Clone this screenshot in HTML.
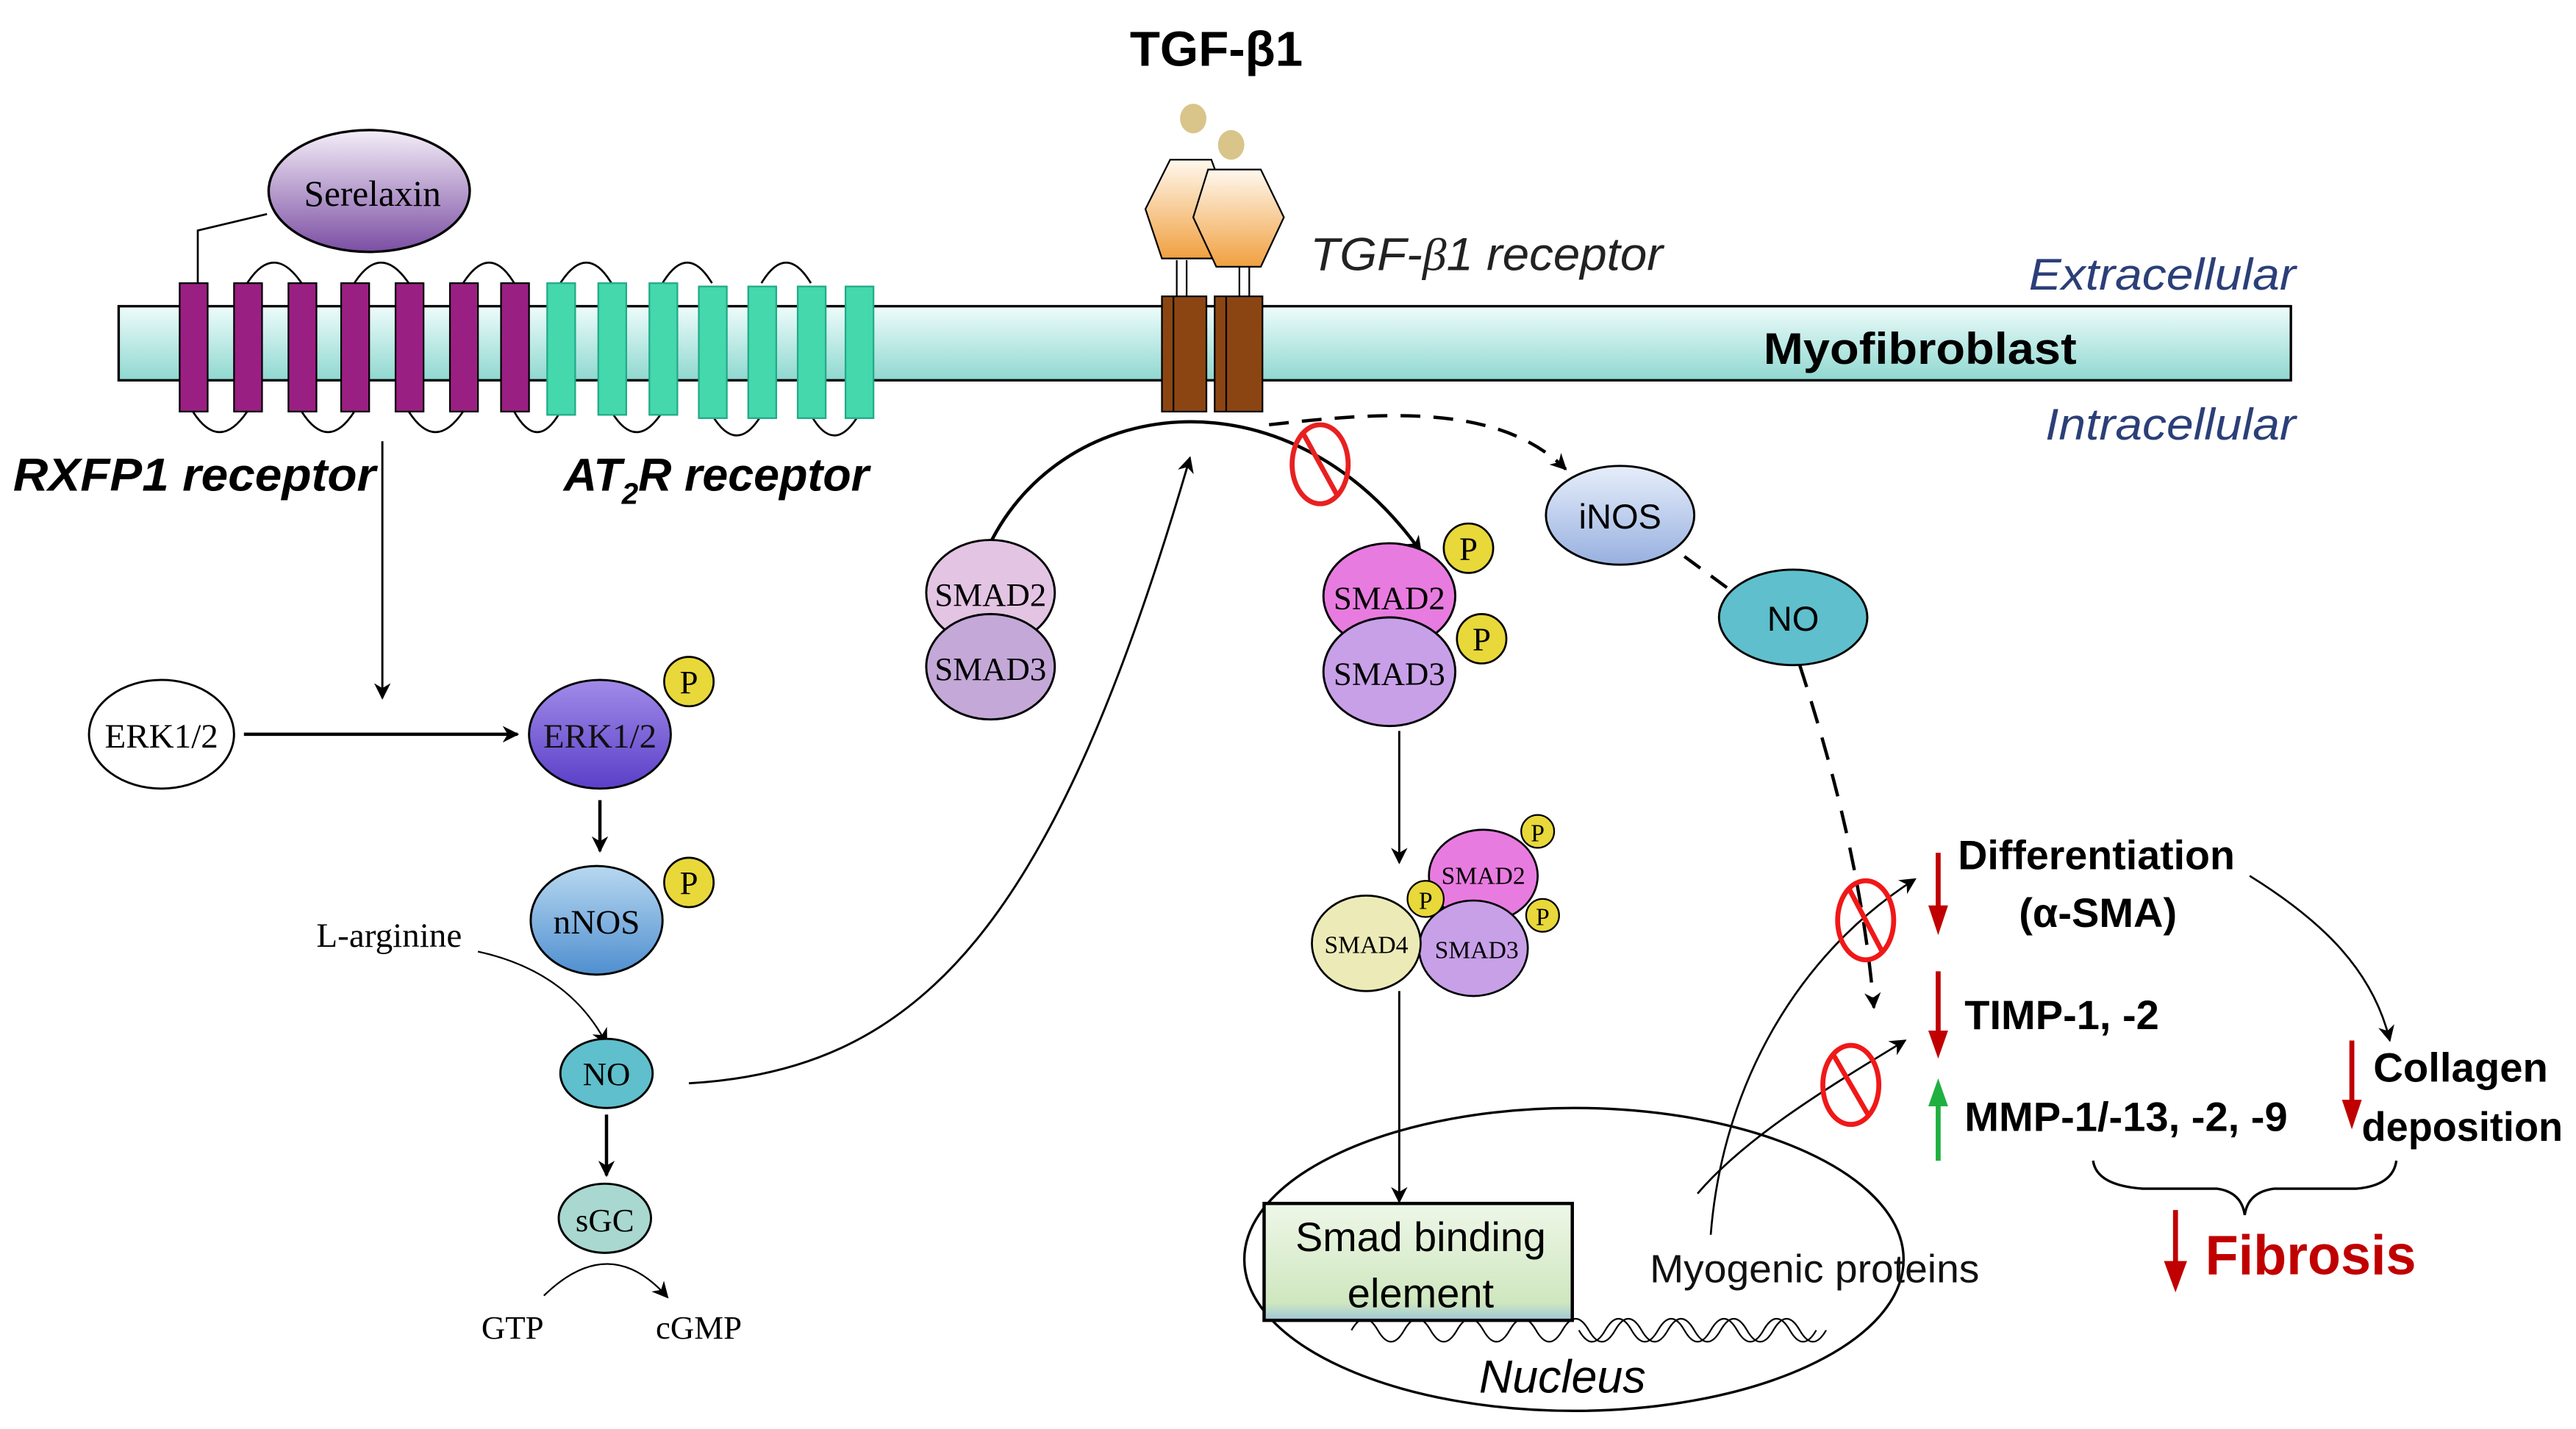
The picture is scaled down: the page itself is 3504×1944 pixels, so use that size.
<!DOCTYPE html>
<html><head><meta charset="utf-8"><style>html,body{margin:0;padding:0;background:#fff}svg{display:block}</style></head><body>
<svg width="3504" height="1944" viewBox="0 0 1563 868" preserveAspectRatio="none" xmlns="http://www.w3.org/2000/svg" font-family="Liberation Sans, sans-serif">
<defs>
<linearGradient id="mem" x1="0" y1="0" x2="0" y2="1"><stop offset="0" stop-color="#eefcfb"/><stop offset="1" stop-color="#8fd8d0"/></linearGradient>
<linearGradient id="ser" x1="0" y1="0" x2="0" y2="1"><stop offset="0" stop-color="#f4eef8"/><stop offset="1" stop-color="#7b4ea3"/></linearGradient>
<linearGradient id="hex" x1="0" y1="0" x2="0" y2="1"><stop offset="0" stop-color="#fff8ee"/><stop offset="1" stop-color="#f0a040"/></linearGradient>
<linearGradient id="erk" x1="0" y1="0" x2="0" y2="1"><stop offset="0" stop-color="#a18be8"/><stop offset="1" stop-color="#5b3fc8"/></linearGradient>
<linearGradient id="nnos" x1="0" y1="0" x2="0" y2="1"><stop offset="0" stop-color="#b8d8f0"/><stop offset="1" stop-color="#4f8fd0"/></linearGradient>
<linearGradient id="inos" x1="0" y1="0" x2="0" y2="1"><stop offset="0" stop-color="#e6eefa"/><stop offset="1" stop-color="#98b0e0"/></linearGradient>
<linearGradient id="sbe" x1="0" y1="0" x2="0" y2="1"><stop offset="0" stop-color="#eef7e8"/><stop offset="0.85" stop-color="#cfe7bf"/><stop offset="1" stop-color="#9cc6d8"/></linearGradient>
<marker id="a" markerWidth="10" markerHeight="10" refX="9" refY="5" orient="auto" markerUnits="userSpaceOnUse"><path d="M0,0 L10,5 L0,10 L3,5 z" fill="#000"/></marker>
</defs>
<rect x="72" y="186" width="1318" height="45" fill="url(#mem)" stroke="#000" stroke-width="1.5"/>
<text x="1231" y="176" font-size="27" font-style="italic" fill="#2b3f78" textLength="162" lengthAdjust="spacingAndGlyphs">Extracellular</text>
<text x="1241" y="267" font-size="27" font-style="italic" fill="#2b3f78" textLength="152" lengthAdjust="spacingAndGlyphs">Intracellular</text>
<text x="1070" y="221" font-size="27" font-weight="bold" textLength="190" lengthAdjust="spacingAndGlyphs">Myofibroblast</text>
<g fill="none" stroke="#000" stroke-width="1.2">
<path d="M150,172 q16,-25 33,0 M215,172 q16,-25 33,0 M281,172 q16,-25 31,0 M340,172 q16,-25 31,0 M402,172 q15,-25 30,0 M462,172 q15,-25 30,0"/>
<path d="M117,250 q16,25 33,0 M183,250 q16,25 32,0 M248,250 q16,25 33,0 M312,250 q14,25 28,0 M371,250 q15,25 31,0 M432,252 q15,25 30,0 M492,252 q14,25 29,0"/>
<path d="M120,172 L120,140 L162,130"/>
</g>
<g fill="#9a1f82" stroke="#000" stroke-width="1">
<rect x="109" y="172" width="17" height="78"/><rect x="142" y="172" width="17" height="78"/><rect x="175" y="172" width="17" height="78"/><rect x="207" y="172" width="17" height="78"/><rect x="240" y="172" width="17" height="78"/><rect x="273" y="172" width="17" height="78"/><rect x="304" y="172" width="17" height="78"/>
</g>
<g fill="#44d8ac" stroke="#2a8" stroke-width="1">
<rect x="332" y="172" width="17" height="80"/><rect x="363" y="172" width="17" height="80"/><rect x="394" y="172" width="17" height="80"/><rect x="424" y="174" width="17" height="80"/><rect x="454" y="174" width="17" height="80"/><rect x="484" y="174" width="17" height="80"/><rect x="513" y="174" width="17" height="80"/>
</g>
<ellipse cx="224" cy="116" rx="61" ry="37" fill="url(#ser)" stroke="#000" stroke-width="1.5"/>
<text x="226" y="125" font-size="22" font-family="Liberation Serif, serif" text-anchor="middle">Serelaxin</text>
<text x="8" y="298" font-size="28" font-weight="bold" font-style="italic" textLength="220" lengthAdjust="spacingAndGlyphs">RXFP1 receptor</text>
<text x="342" y="298" font-size="28" font-weight="bold" font-style="italic">AT<tspan font-size="18" dy="8">2</tspan><tspan dy="-8">R receptor</tspan></text>
<text x="738" y="40" font-size="30" font-weight="bold" text-anchor="middle">TGF-β1</text>
<ellipse cx="724" cy="72" rx="8" ry="9" fill="#d9c48a"/><ellipse cx="747" cy="88" rx="8" ry="9" fill="#d9c48a"/>
<g stroke="#000" stroke-width="1">
<line x1="714" y1="158" x2="714" y2="180"/><line x1="720" y1="158" x2="720" y2="180"/>
<line x1="752" y1="162" x2="752" y2="182"/><line x1="758" y1="162" x2="758" y2="182"/>
<polygon points="710,97 735,97 746,127 735,157 705,157 695,127" fill="url(#hex)"/>
<polygon points="733,103 765,103 779,132 765,162 738,162 724,132" fill="url(#hex)"/>
<rect x="705" y="180" width="27" height="70" fill="#8b4513"/><rect x="737" y="180" width="29" height="70" fill="#8b4513"/>
<line x1="712" y1="180" x2="712" y2="250"/><line x1="744" y1="180" x2="744" y2="250"/>
</g>
<text x="795" y="164" font-size="28" font-style="italic" fill="#222" textLength="214" lengthAdjust="spacingAndGlyphs">TGF-<tspan font-family="Liberation Serif, serif">β</tspan>1 receptor</text>
<line x1="232" y1="268" x2="232" y2="424" stroke="#000" stroke-width="1.3" marker-end="url(#a)"/>
<line x1="148" y1="446" x2="314" y2="446" stroke="#000" stroke-width="2" marker-end="url(#a)"/>
<ellipse cx="98" cy="446" rx="44" ry="33" fill="#fff" stroke="#000" stroke-width="1.3"/>
<text x="98" y="454" font-size="21" font-family="Liberation Serif, serif" text-anchor="middle">ERK1/2</text>
<ellipse cx="364" cy="446" rx="43" ry="33" fill="url(#erk)" stroke="#000" stroke-width="1.3"/>
<text x="364" y="454" font-size="21" font-family="Liberation Serif, serif" text-anchor="middle" fill="#111">ERK1/2</text>
<line x1="364" y1="486" x2="364" y2="517" stroke="#000" stroke-width="2" marker-end="url(#a)"/>
<ellipse cx="362" cy="559" rx="40" ry="33" fill="url(#nnos)" stroke="#000" stroke-width="1.3"/>
<text x="362" y="567" font-size="21" font-family="Liberation Serif, serif" text-anchor="middle">nNOS</text>
<text x="192" y="575" font-size="21" font-family="Liberation Serif, serif">L-arginine</text>
<path d="M290,578 Q345,590 368,634" fill="none" stroke="#000" stroke-width="1" marker-end="url(#a)"/>
<ellipse cx="368" cy="652" rx="28" ry="21" fill="#5fbfcc" stroke="#000" stroke-width="1.3"/>
<text x="368" y="659" font-size="20" font-family="Liberation Serif, serif" text-anchor="middle">NO</text>
<line x1="368" y1="677" x2="368" y2="714" stroke="#000" stroke-width="2" marker-end="url(#a)"/>
<ellipse cx="367" cy="740" rx="28" ry="21" fill="#a8d8d0" stroke="#000" stroke-width="1.3"/>
<text x="367" y="748" font-size="20" font-family="Liberation Serif, serif" text-anchor="middle">sGC</text>
<path d="M330,787 Q370,748 405,788" fill="none" stroke="#000" stroke-width="1" marker-end="url(#a)"/>
<text x="311" y="813" font-size="20" font-family="Liberation Serif, serif" text-anchor="middle">GTP</text>
<text x="424" y="813" font-size="20" font-family="Liberation Serif, serif" text-anchor="middle">cGMP</text>
<path d="M418,658 C560,650 640,560 722,278" fill="none" stroke="#000" stroke-width="1.3" marker-end="url(#a)"/>
<path d="M598,336 C640,240 780,220 862,335" fill="none" stroke="#000" stroke-width="2" marker-end="url(#a)"/>
<path d="M770,258 C840,250 910,245 950,285" fill="none" stroke="#000" stroke-width="2" stroke-dasharray="12,8" marker-end="url(#a)"/>
<ellipse cx="801" cy="282" rx="17" ry="24" fill="none" stroke="#e82020" stroke-width="3"/>
<line x1="790" y1="262" x2="812" y2="302" stroke="#e82020" stroke-width="3"/>
<ellipse cx="601" cy="360" rx="39" ry="32" fill="#e3c4e3" stroke="#000" stroke-width="1.3"/>
<ellipse cx="601" cy="405" rx="39" ry="32" fill="#c4a8d8" stroke="#000" stroke-width="1.3"/>
<text x="601" y="368" font-size="20" font-family="Liberation Serif, serif" text-anchor="middle">SMAD2</text>
<text x="601" y="413" font-size="20" font-family="Liberation Serif, serif" text-anchor="middle">SMAD3</text>
<ellipse cx="843" cy="362" rx="40" ry="32" fill="#e87be0" stroke="#000" stroke-width="1.3"/>
<ellipse cx="843" cy="408" rx="40" ry="33" fill="#c8a0e8" stroke="#000" stroke-width="1.3"/>
<text x="843" y="370" font-size="20" font-family="Liberation Serif, serif" text-anchor="middle">SMAD2</text>
<text x="843" y="416" font-size="20" font-family="Liberation Serif, serif" text-anchor="middle">SMAD3</text>
<g fill="#e8d83a" stroke="#000" stroke-width="1.2">
<circle cx="418" cy="414" r="15"/><circle cx="418" cy="536" r="15"/><circle cx="891" cy="333" r="15"/><circle cx="899" cy="388" r="15"/>
</g>
<g font-size="20" font-family="Liberation Serif, serif" text-anchor="middle">
<text x="418" y="421">P</text><text x="418" y="543">P</text><text x="891" y="340">P</text><text x="899" y="395">P</text>
</g>
<line x1="849" y1="444" x2="849" y2="524" stroke="#000" stroke-width="1.3" marker-end="url(#a)"/>
<ellipse cx="900" cy="532" rx="33" ry="28" fill="#e87be0" stroke="#000" stroke-width="1.2"/>
<ellipse cx="894" cy="576" rx="33" ry="29" fill="#c8a0e8" stroke="#000" stroke-width="1.2"/>
<ellipse cx="829" cy="573" rx="33" ry="29" fill="#ecebb8" stroke="#000" stroke-width="1.2"/>
<g fill="#e8d83a" stroke="#000"><circle cx="933" cy="505" r="10"/><circle cx="936" cy="556" r="10"/><circle cx="865" cy="546" r="11"/></g>
<g font-family="Liberation Serif, serif" text-anchor="middle" font-size="15">
<text x="900" y="537">SMAD2</text><text x="896" y="582">SMAD3</text><text x="829" y="579">SMAD4</text>
<text x="933" y="511">P</text><text x="936" y="562">P</text><text x="865" y="552">P</text>
</g>
<line x1="849" y1="602" x2="849" y2="730" stroke="#000" stroke-width="1.3" marker-end="url(#a)"/>
<ellipse cx="955" cy="765" rx="200" ry="92" fill="none" stroke="#000" stroke-width="1.5"/>
<path d="M820,808 q8,-14 16,0 q8,14 16,0 q8,-14 16,0 q8,14 16,0 q8,-14 16,0 q8,14 16,0 q8,-14 16,0 q8,14 16,0 q8,-14 16,0 q8,14 16,0 q8,-14 16,0 q8,14 16,0 q8,-14 16,0 q8,14 16,0 q8,-14 16,0 q8,14 16,0 q8,-14 16,0 q8,14 16,0 M958,808 q8,14 16,0 q8,-14 16,0 q8,14 16,0 q8,-14 16,0 q8,14 16,0 q8,-14 16,0 q8,14 16,0 q8,-14 16,0 q8,14 16,0" fill="none" stroke="#000" stroke-width="1"/>
<rect x="767" y="731" width="187" height="71" fill="url(#sbe)" stroke="#000" stroke-width="2"/>
<text x="862" y="760" font-size="25" text-anchor="middle" textLength="152" lengthAdjust="spacingAndGlyphs">Smad binding</text>
<text x="862" y="794" font-size="25" text-anchor="middle">element</text>
<text x="948" y="846" font-size="28" font-style="italic" text-anchor="middle">Nucleus</text>
<text x="1001" y="779" font-size="24" fill="#111" textLength="200" lengthAdjust="spacingAndGlyphs">Myogenic proteins</text>
<path d="M1038,750 C1045,660 1090,580 1162,534" fill="none" stroke="#000" stroke-width="1.2" marker-end="url(#a)"/>
<path d="M1030,725 C1060,690 1110,660 1156,632" fill="none" stroke="#000" stroke-width="1.2" marker-end="url(#a)"/>
<ellipse cx="983" cy="313" rx="45" ry="30" fill="url(#inos)" stroke="#000" stroke-width="1.3"/>
<text x="983" y="321" font-size="21" text-anchor="middle">iNOS</text>
<path d="M1022,338 L1052,360" stroke="#000" stroke-width="2" stroke-dasharray="12,8"/>
<ellipse cx="1088" cy="375" rx="45" ry="29" fill="#5fbfcc" stroke="#000" stroke-width="1.3"/>
<text x="1088" y="383" font-size="21" text-anchor="middle">NO</text>
<path d="M1092,404 C1110,460 1130,530 1137,612" fill="none" stroke="#000" stroke-width="2" stroke-dasharray="14,9" marker-end="url(#a)"/>
<g fill="none" stroke="#f01818" stroke-width="3">
<ellipse cx="1132" cy="559" rx="17" ry="24"/><line x1="1122" y1="540" x2="1142" y2="578"/>
<ellipse cx="1123" cy="659" rx="17" ry="24"/><line x1="1112" y1="640" x2="1134" y2="678"/>
</g>
<g stroke-width="3">
<line x1="1176" y1="518" x2="1176" y2="556" stroke="#c00000"/><polygon points="1170,550 1182,550 1176,568" fill="#c00000"/>
<line x1="1176" y1="590" x2="1176" y2="630" stroke="#c00000"/><polygon points="1170,626 1182,626 1176,643" fill="#c00000"/>
<line x1="1176" y1="705" x2="1176" y2="670" stroke="#20b040"/><polygon points="1170,672 1182,672 1176,655" fill="#20b040"/>
<line x1="1427" y1="632" x2="1427" y2="672" stroke="#c00000"/><polygon points="1421,668 1433,668 1427,686" fill="#c00000"/>
<line x1="1320" y1="735" x2="1320" y2="770" stroke="#c00000"/><polygon points="1313,766 1327,766 1320,785" fill="#c00000"/>
</g>
<g font-weight="bold" font-size="25">
<text x="1188" y="528" textLength="168" lengthAdjust="spacingAndGlyphs">Differentiation</text>
<text x="1225" y="563">(α-SMA)</text>
<text x="1192" y="625" textLength="118" lengthAdjust="spacingAndGlyphs">TIMP-1, -2</text>
<text x="1192" y="687" textLength="196" lengthAdjust="spacingAndGlyphs">MMP-1/-13, -2, -9</text>
<text x="1440" y="657" textLength="106" lengthAdjust="spacingAndGlyphs">Collagen</text>
<text x="1433" y="693" textLength="122" lengthAdjust="spacingAndGlyphs">deposition</text>
</g>
<text x="1338" y="774" font-size="34" font-weight="bold" fill="#c00000" textLength="128" lengthAdjust="spacingAndGlyphs">Fibrosis</text>
<path d="M1365,532 C1410,560 1440,590 1450,632" fill="none" stroke="#000" stroke-width="1.2" marker-end="url(#a)"/>
<path d="M1270,705 Q1272,720 1300,722 L1345,722 Q1360,724 1362,738 Q1364,724 1380,722 L1430,722 Q1452,720 1454,705" fill="none" stroke="#000" stroke-width="1.5"/>
</svg>
</body></html>
